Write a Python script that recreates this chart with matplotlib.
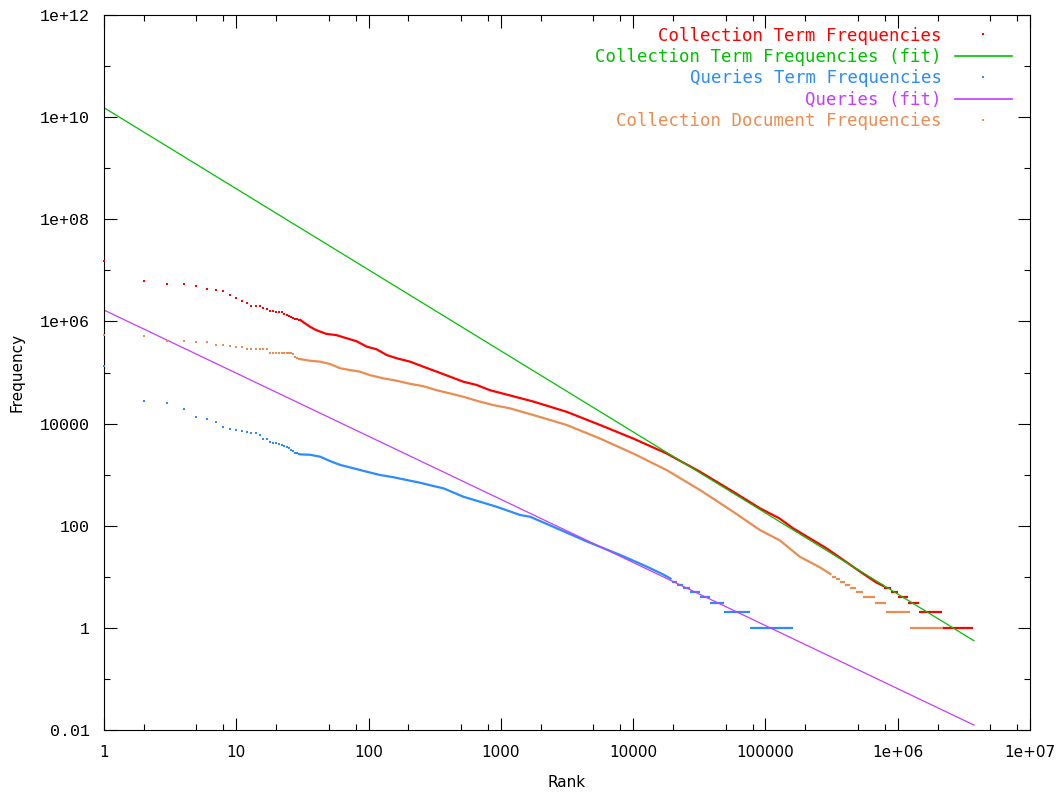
import matplotlib
matplotlib.use("Agg")
import matplotlib.pyplot as plt
from matplotlib.lines import Line2D
from matplotlib.ticker import LogLocator, NullFormatter

# values (rank, frequency)

# Collection Term Frequencies: separate points at low ranks, dense curve, then steps
ctf_dot_rank = list(range(1, 31))
ctf_dot_freq = [1.5e7, 6.2e6, 5.3e6, 5.3e6, 4.9e6, 4.4e6, 4.1e6, 3.9e6, 3.3e6, 2.9e6,
                2.55e6, 2.3e6, 2.0e6, 2.0e6, 2.0e6, 1.8e6, 1.75e6, 1.6e6, 1.6e6, 1.55e6,
                1.55e6, 1.5e6, 1.4e6, 1.34e6, 1.3e6, 1.2e6, 1.15e6, 1.1e6, 1.1e6, 1.05e6]
ctf_rank = [30, 33, 36, 40, 48, 57, 68, 81, 97, 115, 137, 163, 206, 259, 327, 412, 520,
            656, 827, 985, 1760, 3140, 5610, 1.0e4, 1.79e4, 3.2e4, 5.7e4, 9.1e4, 1.27e5,
            1.62e5, 2.9e5, 5.2e5, 6.9e5, 7.9e5]
ctf_freq = [1.1e6, 9.2e5, 7.9e5, 6.8e5, 5.7e5, 5.4e5, 4.7e5, 4.1e5, 3.2e5, 2.85e5, 2.2e5,
            1.9e5, 1.63e5, 1.3e5, 1.04e5, 8.3e4, 6.6e4, 5.7e4, 4.5e4, 4.0e4, 2.7e4, 1.7e4,
            9.4e3, 5.1e3, 2.6e3, 1.14e3, 464, 219, 140, 89, 36, 12.6, 7.7, 6.5]
ctf_step_freq = [6, 5, 4, 3, 2, 1]
ctf_step_start = [7.9e5, 8.9e5, 1.0e6, 1.2e6, 1.45e6, 2.15e6]
ctf_step_end = [8.9e5, 1.0e6, 1.2e6, 1.45e6, 2.15e6, 3.72e6]

# fit lines (end points)
ctf_fit_rank = [1, 3.77e6]
ctf_fit_freq = [1.53e10, 0.56]
qry_fit_rank = [1, 3.77e6]
qry_fit_freq = [1.67e6, 0.0125]

# Queries Term Frequencies
qtf_dot_rank = list(range(1, 31))
qtf_dot_freq = [1.34e5, 2.8e4, 2.5e4, 1.95e4, 1.36e4, 1.21e4, 1.07e4, 8.4e3, 7.7e3, 7.5e3,
                7.1e3, 6.8e3, 6.6e3, 6.6e3, 6.0e3, 4.9e3, 4.9e3, 4.4e3, 4.1e3, 4.1e3,
                4.0e3, 3.8e3, 3.6e3, 3.5e3, 3.3e3, 3.1e3, 2.9e3, 2.7e3, 2.6e3, 2.5e3]
qtf_rank = [30, 36, 43, 51, 61, 77, 97, 122, 154, 194, 245, 308, 368, 520, 930, 1400, 1660,
            2500, 4480, 8000, 1.27e4, 1.7e4, 1.95e4]
qtf_freq = [2.5e3, 2.45e3, 2.25e3, 1.85e3, 1.55e3, 1.33e3, 1.14e3, 985, 890, 785, 695, 600,
            540, 370, 235, 162, 150, 95, 49, 26.7, 15.8, 11, 9]
qtf_step_freq = [8, 7, 6, 5, 4, 3, 2, 1]
qtf_step_start = [1.95e4, 2.15e4, 2.4e4, 2.7e4, 3.2e4, 3.8e4, 4.9e4, 7.6e4]
qtf_step_end = [2.15e4, 2.4e4, 2.7e4, 3.2e4, 3.8e4, 4.9e4, 7.6e4, 1.62e5]

# Collection Document Frequencies
cdf_dot_rank = list(range(1, 31))
cdf_dot_freq = [5.4e5, 5.25e5, 4.2e5, 4.2e5, 4.0e5, 4.0e5, 3.5e5, 3.5e5, 3.3e5, 3.1e5,
                3.1e5, 2.85e5, 2.85e5, 2.85e5, 2.85e5, 2.85e5, 2.85e5, 2.45e5, 2.45e5, 2.45e5,
                2.45e5, 2.45e5, 2.45e5, 2.45e5, 2.45e5, 2.45e5, 2.3e5, 2.0e5, 1.9e5, 1.84e5]
cdf_rank = [30, 36, 43, 51, 61, 72, 86, 102, 129, 163, 206, 259, 327, 412, 520, 656, 875,
            1160, 1760, 3140, 5610, 1.0e4, 1.79e4, 3.2e4, 5.7e4, 9.1e4, 1.28e5, 1.82e5,
            2.58e5, 3.16e5]
cdf_freq = [1.84e5, 1.7e5, 1.63e5, 1.47e5, 1.21e5, 1.12e5, 1.04e5, 8.9e4, 7.7e4, 6.9e4,
            6.0e4, 5.4e4, 4.5e4, 3.9e4, 3.35e4, 2.8e4, 2.3e4, 2.0e4, 1.47e4, 9.4e3, 5.1e3,
            2.6e3, 1.23e3, 500, 188, 82, 52, 24.7, 15.3, 11]
cdf_step_freq = [10, 9, 8, 7, 6, 5, 4, 3, 2, 1]
cdf_step_start = [3.16e5, 3.41e5, 3.66e5, 4.0e5, 4.35e5, 4.85e5, 5.45e5, 6.7e5, 8.1e5, 1.23e6]
cdf_step_end = [3.41e5, 3.66e5, 4.0e5, 4.35e5, 4.85e5, 5.45e5, 6.7e5, 8.1e5, 1.23e6, 2.2e6]

x_ticks = [1, 10, 100, 1000, 1e4, 1e5, 1e6, 1e7]
x_labels = ['1', '10', '100', '1000', '10000', '100000', '1e+06', '1e+07']
y_ticks = [0.01, 1, 100, 1e4, 1e6, 1e8, 1e10, 1e12]
y_labels = ['0.01', '1', '100', '10000', '1e+06', '1e+08', '1e+10', '1e+12']

RED = '#ff0000'
GREEN = '#00c000'
BLUE = '#2a8cff'
PURPLE = '#c43cff'
ORANGE = '#ea8d52'

fig = plt.figure(figsize=(10.6, 7.93), dpi=100)
ax = fig.add_axes([104 / 1060, 1 - 730 / 793, 926 / 1060, 715 / 793])


def scatter_series(dot_r, dot_f, r, f, s_freq, s_start, s_end, color):
    ax.plot(dot_r, dot_f, ls='none', marker='s', ms=1.6, mew=0, color=color, clip_on=False,
            zorder=3)
    ax.plot(r, f, color=color, lw=1.6, solid_capstyle='butt')
    ax.hlines(s_freq, s_start, s_end, color=color, lw=1.6)


# same drawing order as the original plot
scatter_series(ctf_dot_rank, ctf_dot_freq, ctf_rank, ctf_freq,
               ctf_step_freq, ctf_step_start, ctf_step_end, RED)
ax.plot(ctf_fit_rank, ctf_fit_freq, color=GREEN, lw=0.9)
scatter_series(qtf_dot_rank, qtf_dot_freq, qtf_rank, qtf_freq,
               qtf_step_freq, qtf_step_start, qtf_step_end, BLUE)
ax.plot(qry_fit_rank, qry_fit_freq, color=PURPLE, lw=0.9)
scatter_series(cdf_dot_rank, cdf_dot_freq, cdf_rank, cdf_freq,
               cdf_step_freq, cdf_step_start, cdf_step_end, ORANGE)

ax.set_xscale('log')
ax.set_yscale('log')
ax.set_xlim(1, 1e7)
ax.set_ylim(0.01, 1e12)

ax.set_xticks(x_ticks, x_labels, fontfamily='DejaVu Sans', fontsize=11)
ax.set_yticks(y_ticks, y_labels, fontfamily='Liberation Mono', fontsize=12)
ax.xaxis.set_minor_locator(LogLocator(base=10, subs=(2, 5, 8), numticks=20))
ax.yaxis.set_minor_locator(LogLocator(base=100, subs=(10,), numticks=20))
ax.xaxis.set_minor_formatter(NullFormatter())
ax.yaxis.set_minor_formatter(NullFormatter())
ax.tick_params(which='both', direction='in', top=True, right=True, width=0.8, color='black')
ax.tick_params(which='major', length=9)
ax.tick_params(which='minor', length=4.5)
ax.tick_params(axis='x', which='major', pad=11)
ax.tick_params(axis='y', which='major', pad=10)
for s in ax.spines.values():
    s.set_linewidth(0.8)

ax.set_xlabel('Rank', fontfamily='DejaVu Sans', fontsize=11)
ax.set_ylabel('Frequency', fontfamily='DejaVu Sans', fontsize=11)
ax.xaxis.set_label_coords(0.5, -0.063)
ax.yaxis.set_label_coords(-0.086, 0.5)

handles = [
    Line2D([], [], ls='none', marker='s', ms=1.6, mew=0, color=RED),
    Line2D([], [], color=GREEN, lw=1.2),
    Line2D([], [], ls='none', marker='s', ms=1.6, mew=0, color=BLUE),
    Line2D([], [], color=PURPLE, lw=1.2),
    Line2D([], [], ls='none', marker='s', ms=1.6, mew=0, color=ORANGE),
]
labels = ['Collection Term Frequencies', 'Collection Term Frequencies (fit)',
          'Queries Term Frequencies', 'Queries (fit)', 'Collection Document Frequencies']
ax.legend(handles, labels, loc='upper right', bbox_to_anchor=(0.99, 0.996),
          frameon=False, markerfirst=False, labelcolor='linecolor',
          prop={'family': 'DejaVu Sans Mono', 'size': 12.5},
          handlelength=3.3, handletextpad=0.75, labelspacing=0.2, borderpad=0)

fig.savefig('out.png', dpi=100)
